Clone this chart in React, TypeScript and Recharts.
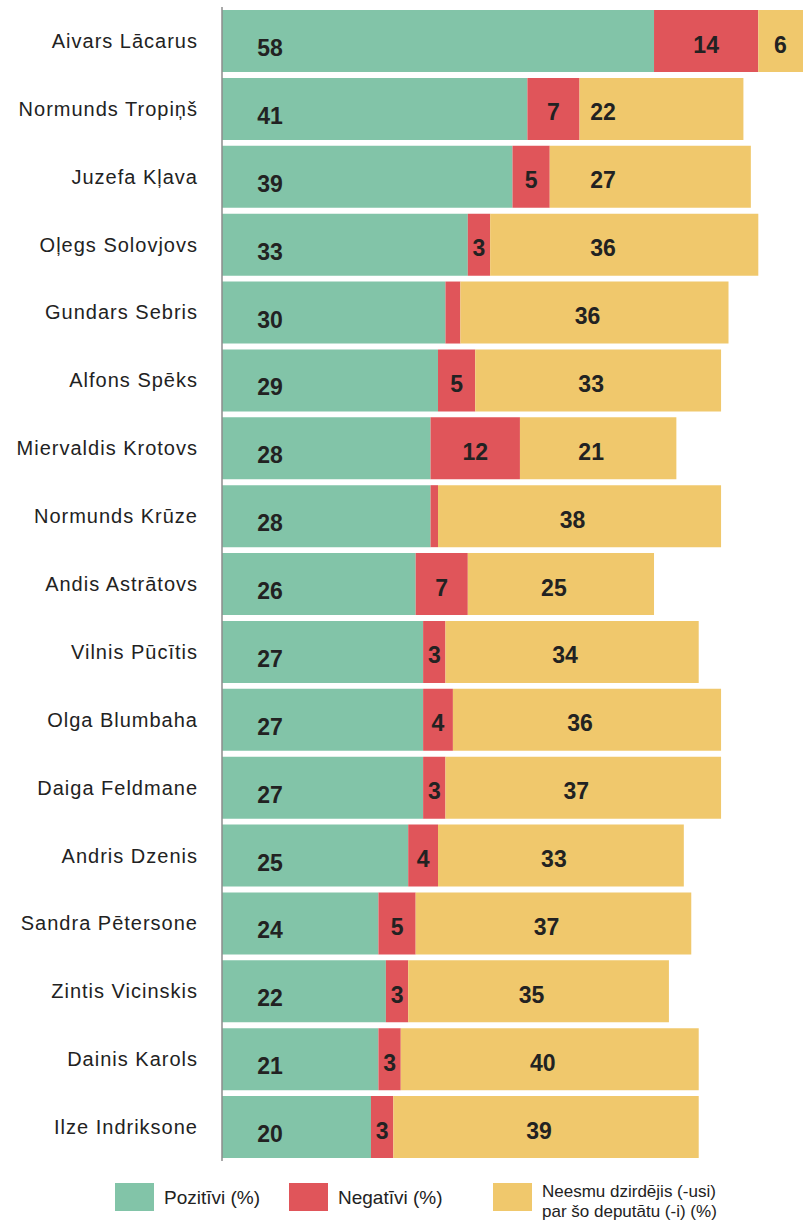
import { BarChart, Bar, XAxis, YAxis, LabelList } from 'recharts'

const names = [
  'Aivars Lācarus',
  'Normunds Tropiņš',
  'Juzefa Kļava',
  'Oļegs Solovjovs',
  'Gundars Sebris',
  'Alfons Spēks',
  'Miervaldis Krotovs',
  'Normunds Krūze',
  'Andis Astrātovs',
  'Vilnis Pūcītis',
  'Olga Blumbaha',
  'Daiga Feldmane',
  'Andris Dzenis',
  'Sandra Pētersone',
  'Zintis Vicinskis',
  'Dainis Karols',
  'Ilze Indriksone',
]

// bar lengths as drawn in the source; a couple of bars there don't match their printed number
const positive = [58, 41, 39, 33, 30, 29, 28, 28, 26, 27, 27, 27, 25, 21, 22, 21, 20]
const positiveLabels = [58, 41, 39, 33, 30, 29, 28, 28, 26, 27, 27, 27, 25, 24, 22, 21, 20]
const negative = [14, 7, 5, 3, 2, 5, 12, 1, 7, 3, 4, 3, 4, 5, 3, 3, 3]
const unheard = [6, 22, 27, 36, 36, 33, 21, 38, 25, 34, 36, 37, 33, 37, 35, 40, 41]
const unheardLabels = [6, 22, 27, 36, 36, 33, 21, 38, 25, 34, 36, 37, 33, 37, 35, 40, 39]

const data = names.map((name, i) => ({
  name,
  positive: positive[i],
  posLabel: positiveLabels[i],
  negative: negative[i],
  unheard: unheard[i],
  unheardLabel: unheardLabels[i],
}))

const GREEN = '#82c4a8'
const RED = '#e0555a'
const YELLOW = '#f0c86c'
const TEXT = '#222222'
const FONT = '"Liberation Sans", Arial, Helvetica, sans-serif'

const valueStyle = {
  fontFamily: FONT,
  fontSize: 23,
  fontWeight: 700,
  fill: TEXT,
}

const PositiveLabel = (props: any) => {
  const { x, y, height, value } = props
  return (
    <text x={x + 48} y={y + height / 2 + 7} textAnchor="middle" dominantBaseline="central" style={valueStyle}>
      {value}
    </text>
  )
}

const NegativeLabel = (props: any) => {
  const { x, y, width, height, value } = props
  if (value < 3) return null
  return (
    <text x={x + width / 2} y={y + height / 2 + 3.5} textAnchor="middle" dominantBaseline="central" style={valueStyle}>
      {value}
    </text>
  )
}

const UnheardLabel = (props: any) => {
  const { x, y, width, height, value } = props
  const cx = Math.max(x + 22, Math.min(x + width / 2 - 7, 603))
  return (
    <text x={cx} y={y + height / 2 + 3.5} textAnchor="middle" dominantBaseline="central" style={valueStyle}>
      {value}
    </text>
  )
}

const NameTick = (props: any) => {
  const { y, payload } = props
  return (
    <text
      x={198}
      y={y}
      textAnchor="end"
      dominantBaseline="central"
      style={{ fontFamily: FONT, fontSize: 20, letterSpacing: 1, fill: TEXT }}
    >
      {payload.value}
    </text>
  )
}

const legendItems = [
  { color: GREEN, left: 115, lines: ['Pozitīvi (%)'] },
  { color: RED, left: 289, lines: ['Negatīvi (%)'] },
  { color: YELLOW, left: 493, lines: ['Neesmu dzirdējis (-usi)', 'par šo deputātu (-i) (%)'] },
]

export default function App() {
  return (
    <div style={{ position: 'absolute', left: 0, top: 0, width: 809, height: 1221, background: '#fff', overflow: 'hidden' }}>
      <BarChart
        width={809}
        height={1165}
        data={data}
        layout="vertical"
        margin={{ top: 7, right: 6, bottom: 4, left: 0 }}
        barSize={62}
      >
        <XAxis type="number" domain={[0, 78]} hide />
        <YAxis
          type="category"
          dataKey="name"
          width={222}
          tickLine={false}
          axisLine={{ stroke: '#8c8c8c', strokeWidth: 1.5 }}
          tick={<NameTick />}
          interval={0}
        />
        <Bar dataKey="positive" stackId="a" fill={GREEN} isAnimationActive={false}>
          <LabelList dataKey="posLabel" content={<PositiveLabel />} />
        </Bar>
        <Bar dataKey="negative" stackId="a" fill={RED} isAnimationActive={false}>
          <LabelList dataKey="negative" content={<NegativeLabel />} />
        </Bar>
        <Bar dataKey="unheard" stackId="a" fill={YELLOW} isAnimationActive={false}>
          <LabelList dataKey="unheardLabel" content={<UnheardLabel />} />
        </Bar>
      </BarChart>
      {legendItems.map((item) => (
        <div key={item.color} style={{ position: 'absolute', left: item.left, top: 1183 }}>
          <div style={{ position: 'absolute', left: 0, top: 0, width: 39, height: 28, background: item.color }} />
          <div
            style={{
              position: 'absolute',
              left: 49,
              top: item.lines.length > 1 ? -1 : 4,
              fontFamily: FONT,
              fontSize: item.lines.length > 1 ? 17 : 19,
              lineHeight: item.lines.length > 1 ? '20px' : '21px',
              color: TEXT,
              whiteSpace: 'nowrap',
            }}
          >
            {item.lines.map((l) => (
              <div key={l}>{l}</div>
            ))}
          </div>
        </div>
      ))}
    </div>
  )
}
